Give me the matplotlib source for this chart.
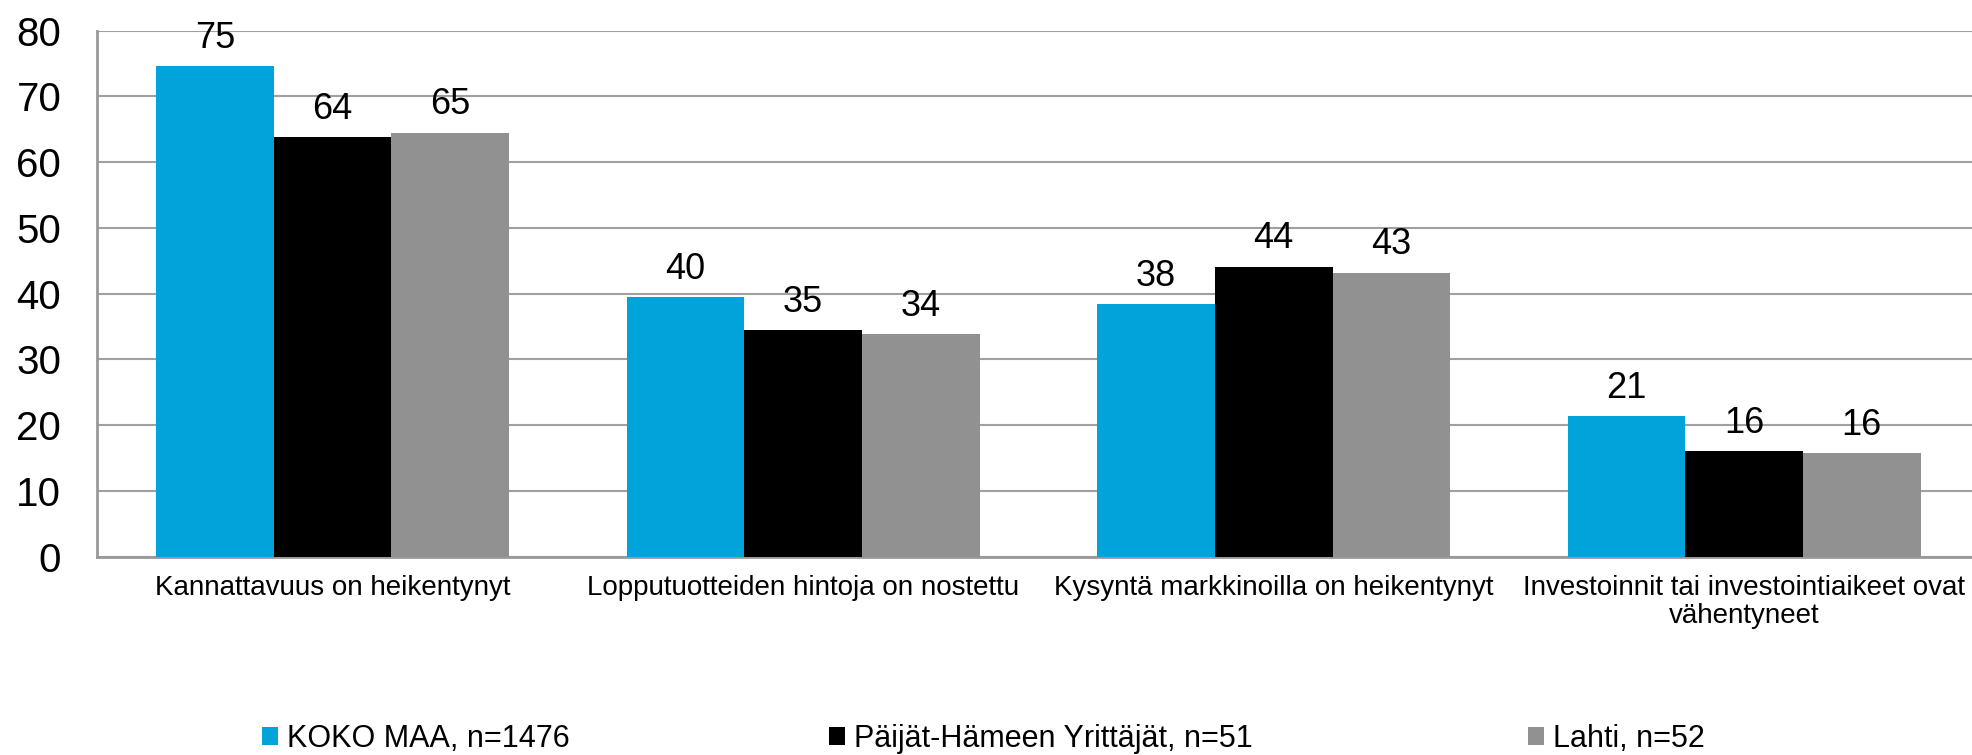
import matplotlib
matplotlib.use("Agg")
import matplotlib.pyplot as plt
import numpy as np

plt.rcParams['font.family'] = ['Liberation Sans', 'DejaVu Sans']

categories = ['Kannattavuus on heikentynyt',
              'Lopputuotteiden hintoja on nostettu',
              'Kysyntä markkinoilla on heikentynyt',
              'Investoinnit tai investointiaikeet ovat\nvähentyneet']
series_names = ['KOKO MAA, n=1476', 'Päijät-Hämeen Yrittäjät, n=51', 'Lahti, n=52']
koko_maa = [74.6, 39.5, 38.4, 21.4]
paijat_hame = [63.8, 34.5, 44.1, 16.1]
lahti = [64.5, 33.8, 43.2, 15.7]
value_labels = [['75', '40', '38', '21'],
                ['64', '35', '44', '16'],
                ['65', '34', '43', '16']]
colors = ['#00A3DA', '#000000', '#919191']

fig = plt.figure(figsize=(19.72, 7.55), dpi=100)
ax = fig.add_axes([0.0494, 0.2627, 0.9544, 0.6966])

x = np.arange(len(categories))
w = 0.25
containers = []
for i, vals in enumerate([koko_maa, paijat_hame, lahti]):
    bars = ax.bar(x + (i - 1) * w, vals, width=w, color=colors[i], zorder=3)
    containers.append(bars)
    for b, lab in zip(bars, value_labels[i]):
        ax.annotate(lab, (b.get_x() + b.get_width() / 2, b.get_height()),
                    xytext=(0, 20), textcoords='offset points',
                    ha='center', va='center', fontsize=26, zorder=4)

ax.set_xlim(-0.5, 3.5)
ax.set_ylim(0, 80)
ax.set_yticks(range(0, 81, 10))
ax.yaxis.grid(True, color='#A0A0A0', linewidth=1.5, zorder=0)
ax.set_axisbelow(True)
ax.set_xticks(x)
ax.set_xticklabels(categories, fontsize=20, linespacing=1.1)
ax.tick_params(axis='x', length=0, pad=13)
ax.tick_params(axis='y', length=0, pad=26, labelsize=29)
for s in ['top', 'right']:
    ax.spines[s].set_visible(False)
for s in ['left', 'bottom']:
    ax.spines[s].set_color('#999999')
    ax.spines[s].set_linewidth(2)

# legend entries placed individually like the original
legend_x = [0.1329, 0.4204, 0.7748]
for bx, cont, name in zip(legend_x, containers, series_names):
    fig.legend([cont], [name], loc='center left', bbox_to_anchor=(bx, 0.021),
               frameon=False, fontsize=22, handlelength=0.52, handleheight=0.52,
               handletextpad=0.3, borderpad=0, borderaxespad=0)

fig.savefig('out.png', dpi=100)
